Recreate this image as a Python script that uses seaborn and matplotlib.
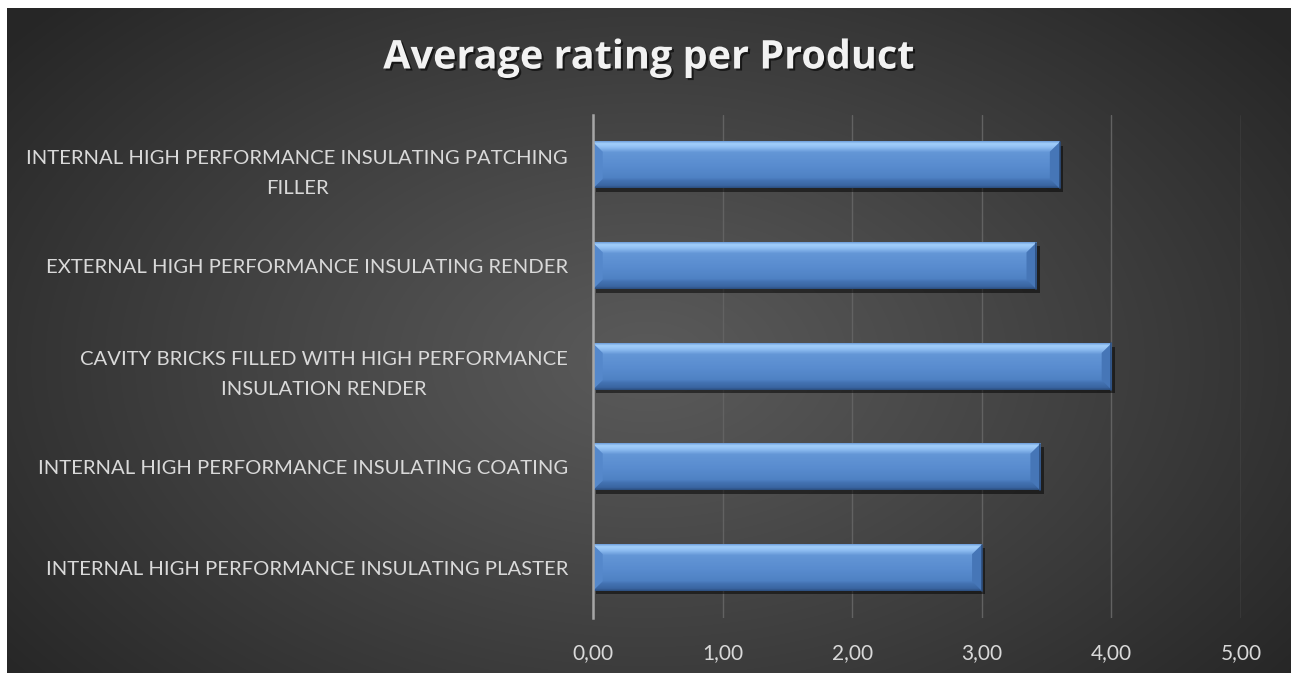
import numpy as np
import pandas as pd
import matplotlib
matplotlib.use("Agg")
import matplotlib.pyplot as plt
import matplotlib.patheffects as pe
from matplotlib.colors import LinearSegmentedColormap, to_rgb
from matplotlib.patches import Polygon
import seaborn as sns

# ---- data -------------------------------------------------------------
products = [
    "INTERNAL HIGH PERFORMANCE INSULATING PATCHING\nFILLER",
    "EXTERNAL HIGH PERFORMANCE INSULATING RENDER",
    "CAVITY BRICKS FILLED WITH HIGH PERFORMANCE\nINSULATION RENDER",
    "INTERNAL HIGH PERFORMANCE INSULATING COATING",
    "INTERNAL HIGH PERFORMANCE INSULATING PLASTER",
]
ratings = [3.60, 3.42, 4.00, 3.45, 3.00]
x_ticks = [0, 1, 2, 3, 4, 5]
x_tick_labels = ["0,00", "1,00", "2,00", "3,00", "4,00", "5,00"]
title = "Average rating per Product"

# ---- figure -----------------------------------------------------------
W, H = 1291, 673
sns.set_theme(style="dark")
plt.rcParams["font.family"] = ["Lato", "DejaVu Sans"]

fig = plt.figure(figsize=(W / 100, H / 100), dpi=100)
fig.patch.set_facecolor("white")

# dark radial-gradient chart area
bg = fig.add_axes([7 / W, 0, 1 - 7 / W, 1 - 8 / H], zorder=0)
bh, bw = H - 8, W - 7
yy, xx = np.mgrid[0:bh, 0:bw]
r = np.sqrt(((xx - 640) / 820.0) ** 2 + ((yy - 352) / 520.0) ** 2)
r = np.clip(r, 0, 1) ** 1.1
c_in = np.array(to_rgb("#5a5a5a"))
c_out = np.array(to_rgb("#262626"))
bg.imshow(c_in + (c_out - c_in) * r[..., None], aspect="auto",
          interpolation="bilinear")
bg.axis("off")

# plot area
ax = fig.add_axes([593 / W, 55 / H, 648 / W, 503 / H], zorder=1)
ax.set_facecolor("none")

df = pd.DataFrame({"product": products, "rating": ratings})
sns.barplot(data=df, x="rating", y="product", orient="h", color="#5a8dd0",
            saturation=1, width=0.46, errorbar=None, ax=ax, zorder=3)

# bevelled bar faces
bar_cmap = LinearSegmentedColormap.from_list("bevel", [
    (0.00, "#6d9edb"), (0.05, "#a3cffb"), (0.13, "#8fbef2"),
    (0.24, "#6396d6"), (0.50, "#5a8dd0"), (0.78, "#4f82c4"),
    (0.84, "#4473b3"), (0.95, "#3a65a1"), (1.00, "#2b4e7e"),
])
grad = np.linspace(0, 1, 200)[:, None]
bx, by = 0.075, 0.095
for p in ax.patches:
    x0, y0, w, h = p.get_x(), p.get_y(), p.get_width(), p.get_height()
    x1, y1 = x0 + w, y0 + h
    p.set_edgecolor("none")
    p.set_linewidth(0)
    p.set_path_effects([
        pe.SimplePatchShadow(offset=(2.5, -2.5), shadow_rgbFace="black", alpha=0.5),
        pe.Normal(),
    ])
    ax.imshow(grad, cmap=bar_cmap, aspect="auto", interpolation="bilinear",
              extent=(x0, x1, y1, y0), origin="upper", zorder=4)
    ax.add_patch(Polygon([(x0, y0), (x0 + bx, y0 + by), (x0 + bx, y1 - by), (x0, y1)],
                         closed=True, facecolor="#5588cb", edgecolor="none", zorder=5))
    ax.add_patch(Polygon([(x1, y0), (x1 - bx, y0 + by), (x1 - bx, y1 - by), (x1, y1)],
                         closed=True, facecolor="#4676b7", edgecolor="none", zorder=5))
    ax.plot([x1, x1], [y0, y1], color="#2c4d7c", lw=1.2, zorder=6)

ax.set_xlim(0, 5)
ax.set_ylim(4.5, -0.5)

# axes styling
for side in ("top", "right", "bottom"):
    ax.spines[side].set_visible(False)
ax.spines["left"].set_color("#a6a6a6")
ax.spines["left"].set_linewidth(1.8)
ax.spines["left"].set_zorder(7)
ax.set_xticks(x_ticks)
ax.set_xticklabels(x_tick_labels)
ax.grid(axis="x", color="#626262", linewidth=1.0, zorder=0)
ax.grid(axis="y", visible=False)
ax.set_axisbelow(True)
ax.set_xlabel("")
ax.set_ylabel("")
ax.tick_params(axis="x", length=0, pad=18, labelsize=15, labelcolor="#d9d9d9")
ax.tick_params(axis="y", length=0, pad=18, labelsize=14.6, labelcolor="#d9d9d9")
for lbl in ax.get_yticklabels():
    lbl.set_multialignment("center")
    lbl.set_linespacing(1.95)

fig.text(649 / W, 1 - 58 / H, title, ha="center", va="center",
         fontsize=28.5, fontweight="bold", color="#f2f2f2",
         family=["Open Sans", "DejaVu Sans"],
         path_effects=[pe.withSimplePatchShadow(offset=(1.5, -1.5),
                                                shadow_rgbFace="black", alpha=0.6)])

fig.savefig("out.png", dpi=100)
